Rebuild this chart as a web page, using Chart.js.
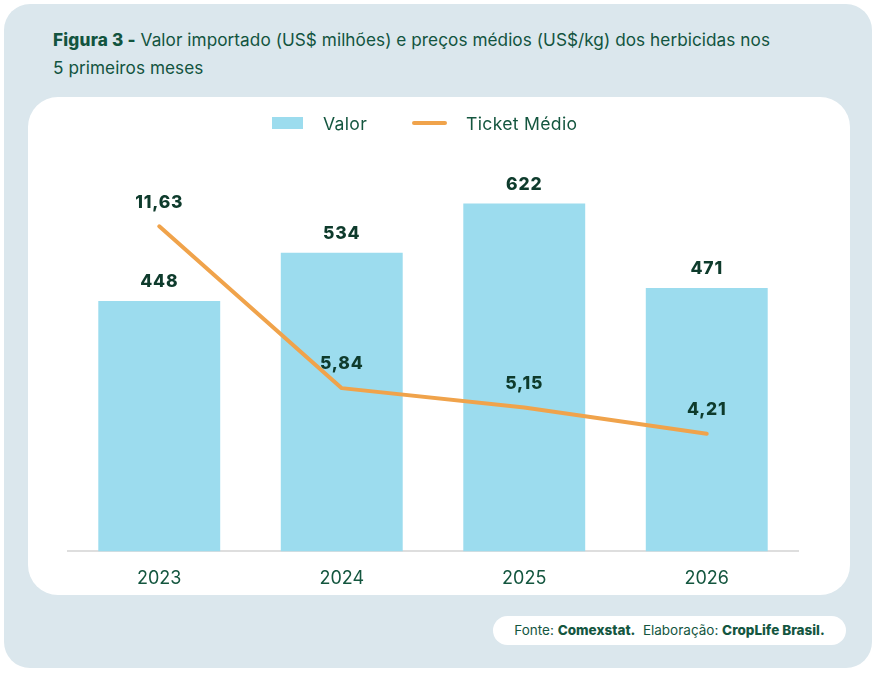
<!DOCTYPE html>
<html lang="pt-BR">
<head>
<meta charset="utf-8">
<title>Figura 3</title>
<script src="https://cdn.jsdelivr.net/npm/chart.js@4.4.1/dist/chart.umd.min.js"></script>
<style>
  html, body { margin: 0; padding: 0; background: #ffffff; }
  body { width: 876px; height: 674px; position: relative; font-family: "Inter", "Noto Sans", sans-serif; overflow: hidden; }
  .frame { position: absolute; left: 4px; top: 4px; width: 868px; height: 664px; background: #dbe7ed; border-radius: 26px; }
  .title { position: absolute; left: 53px; top: 26px; font-size: 17.2px; line-height: 28px; color: #12543f; letter-spacing: 0.05px; }
  .title b { font-weight: 800; letter-spacing: 0.2px; }
  .card { position: absolute; left: 28px; top: 97px; width: 822px; height: 498px; background: #ffffff; border-radius: 30px; }
  .legend { position: absolute; left: 272px; top: 111px; height: 24px; display: flex; align-items: center; font-size: 17.6px; color: #14563f; letter-spacing: 0.3px; }
  .legend .box { width: 31px; height: 12px; background: #9cdcee; margin-right: 20px; }
  .legend .line { width: 35px; height: 4px; border-radius: 2px; background: #f0a34b; margin-left: 45px; margin-right: 19px; }
  .chart { position: absolute; left: 28px; top: 97px; width: 822px; height: 518px; }
  .source { position: absolute; left: 493px; top: 616px; width: 353px; height: 29px; background: #ffffff; border-radius: 15px;
            font-size: 13.5px; line-height: 29px; text-align: center; color: #14563f; }
  .source b { font-weight: 800; }
</style>
</head>
<body>
<div class="frame"></div>
<div class="title"><b>Figura 3 -</b> Valor importado (US$ milhões) e preços médios (US$/kg) dos herbicidas nos<br>5 primeiros meses</div>
<div class="card"></div>
<div class="chart"><canvas id="chart"></canvas></div>
<div class="legend"><span class="box"></span><span>Valor</span><span class="line"></span><span>Ticket Médio</span></div>
<div class="source">Fonte: <b>Comexstat.</b>&nbsp; Elaboração: <b>CropLife Brasil.</b></div>

<script>
  var anos = ['2023', '2024', '2025', '2026'];
  var valor = [448, 534, 622, 471];
  var ticketMedio = [11.63, 5.84, 5.15, 4.21];

  /* labels above bars and line points */
  var valueLabels = {
    id: 'valueLabels',
    afterDatasetsDraw: function(chart) {
      var ctx = chart.ctx;
      ctx.save();
      ctx.font = '800 17.5px Inter, "Noto Sans", sans-serif';
      ctx.letterSpacing = '0.8px';
      ctx.fillStyle = '#0e3b2c';
      ctx.textAlign = 'center';
      ctx.textBaseline = 'middle';
      chart.data.datasets.forEach(function(ds, i) {
        var meta = chart.getDatasetMeta(i);
        var offset = ds.type === 'line' ? 24 : 19;
        meta.data.forEach(function(el, j) {
          var txt = ds.type === 'line' ? ds.data[j].toFixed(2).replace('.', ',') : String(ds.data[j]);
          ctx.fillText(txt, el.x, el.y - offset);
        });
      });
      ctx.restore();
    }
  };

  new Chart(document.getElementById('chart').getContext('2d'), {
    data: {
      labels: anos,
      datasets: [{
        type: 'line',
        label: 'Ticket Médio',
        data: ticketMedio,
        yAxisID: 'y1',
        borderColor: '#f0a34b',
        borderWidth: 4,
        borderCapStyle: 'round',
        borderJoinStyle: 'round',
        pointRadius: 0,
        tension: 0,
        order: 0
      }, {
        type: 'bar',
        label: 'Valor',
        data: valor,
        yAxisID: 'y',
        backgroundColor: '#9cdcee',
        barPercentage: 1,
        categoryPercentage: 0.668,
        order: 1
      }]
    },
    options: {
      responsive: true,
      maintainAspectRatio: false,
      animation: false,
      layout: { padding: { left: 40, right: 52, top: 63, bottom: 10 } },
      plugins: {
        legend: { display: false },
        tooltip: { enabled: false }
      },
      scales: {
        x: {
          grid: { display: false, drawTicks: false },
          border: { display: true, color: '#dedede', width: 2 },
          ticks: { padding: 16, color: '#14563f', font: { family: 'Inter', size: 18 } }
        },
        y: { display: false, min: 0, max: 700 },
        y1: { display: false, min: 0, max: 14 }
      }
    },
    plugins: [valueLabels]
  });
</script>
</body>
</html>
